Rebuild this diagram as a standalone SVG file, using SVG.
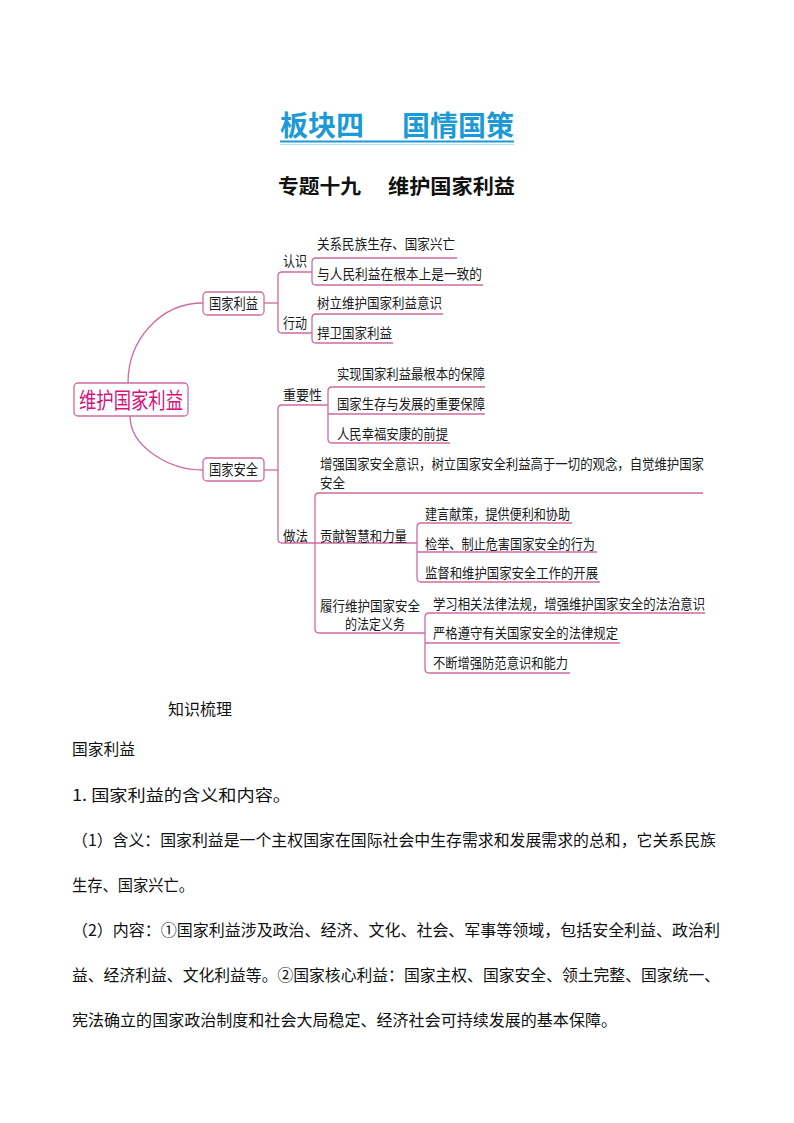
<svg xmlns="http://www.w3.org/2000/svg" width="794" height="1123" viewBox="0 0 794 1123">
<style>
.t{font-family:"Noto Sans CJK SC","Liberation Sans",sans-serif;fill:#1a1a1a;font-size:14px}
.b{font-family:"Noto Sans CJK SC","Liberation Sans",sans-serif;fill:#111;font-size:16px}
.ln{fill:none;stroke:#cf6aa0;stroke-width:1.3}
.box{fill:#fff;stroke:#cf6aa0;stroke-width:1.3}
</style>
<rect width="794" height="1123" fill="#fff"/>
<g id="title">
<text x="280" y="136" style="font-family:'Noto Sans CJK SC',sans-serif;font-size:28px;font-weight:700;fill:#1c9ad6">板块四</text>
<text x="402" y="136" style="font-family:'Noto Sans CJK SC',sans-serif;font-size:28px;font-weight:700;fill:#1c9ad6">国情国策</text>
<line x1="280" y1="141.5" x2="514" y2="141.5" stroke="#1c9ad6" stroke-width="2.2"/>
<line x1="280" y1="144.5" x2="514" y2="144.5" stroke="#a8d8f0" stroke-width="0.8"/>
</g>
<g id="subtitle">
<text x="278" y="193.5" style="font-family:'Noto Sans CJK SC',sans-serif;font-size:20px;font-weight:700;fill:#111" textLength="83" lengthAdjust="spacingAndGlyphs">专题十九</text>
<text x="388" y="193.5" style="font-family:'Noto Sans CJK SC',sans-serif;font-size:20px;font-weight:700;fill:#111" textLength="127" lengthAdjust="spacingAndGlyphs">维护国家利益</text>
</g>
<g id="connectors">
<path class="ln" d="M128,383 C128,339 161,303 203,303"/>
<path class="ln" d="M130,416 C130,446 168,470 203,470"/>
<path class="ln" d="M264,303 H278"/>
<path class="ln" d="M312,272 H282 Q278,272 278,276 V329 Q278,333 282,333 H312"/>
<path class="ln" d="M457,258 H316 Q312,258 312,262 V281 Q312,285 316,285 H483"/>
<path class="ln" d="M443,314 H316 Q312,314 312,318 V339 Q312,343 316,343 H393"/>
<path class="ln" d="M264,470 H278"/>
<path class="ln" d="M328,405 H282 Q278,405 278,409 V539 Q278,543 282,543 H417"/>
<path class="ln" d="M485,387 H332 Q328,387 328,391 V439 Q328,443 332,443 H450"/>
<path class="ln" d="M328,414 H485"/>
<path class="ln" d="M703,493 H319 Q315,493 315,497 V629 Q315,633 319,633 H425"/>
<path class="ln" d="M572,523 H421 Q417,523 417,527 V578 Q417,582 421,582 H600"/>
<path class="ln" d="M417,552 H597"/>
<path class="ln" d="M705,613 H429 Q425,613 425,617 V669 Q425,673 429,673 H570"/>
<path class="ln" d="M425,643 H620"/>
</g>
<g id="root">
<rect class="box" x="74" y="383" width="114" height="33" rx="4"/>
<text x="79" y="407.5" style="font-family:'Noto Sans CJK SC',sans-serif;font-size:22px;fill:#d3127b" textLength="104" lengthAdjust="spacingAndGlyphs">维护国家利益</text>
</g>
<g id="n-guojialiyi">
<rect class="box" x="203" y="292" width="61" height="23" rx="4"/>
<text class="t" x="209" y="308.8" style="font-size:14.5px" textLength="49" lengthAdjust="spacingAndGlyphs">国家利益</text>
</g>
<g id="n-guojiaanquan">
<rect class="box" x="203" y="458" width="61" height="23" rx="4"/>
<text class="t" x="209" y="475.3" style="font-size:14.5px" textLength="49" lengthAdjust="spacingAndGlyphs">国家安全</text>
</g>
<g id="n-renshi"><text class="t" x="283" y="265.5" textLength="24" lengthAdjust="spacingAndGlyphs">认识</text></g>
<g id="n-r1"><text class="t" x="317" y="248.5" textLength="138" lengthAdjust="spacingAndGlyphs">关系民族生存、国家兴亡</text></g>
<g id="n-r2"><text class="t" x="317" y="278.5" textLength="165" lengthAdjust="spacingAndGlyphs">与人民利益在根本上是一致的</text></g>
<g id="n-xingdong"><text class="t" x="283" y="327.5" textLength="24" lengthAdjust="spacingAndGlyphs">行动</text></g>
<g id="n-x1"><text class="t" x="317" y="307.5" textLength="125" lengthAdjust="spacingAndGlyphs">树立维护国家利益意识</text></g>
<g id="n-x2"><text class="t" x="317" y="337.5" textLength="75" lengthAdjust="spacingAndGlyphs">捍卫国家利益</text></g>
<g id="n-zhongyao"><text class="t" x="283" y="399.5" textLength="39" lengthAdjust="spacingAndGlyphs">重要性</text></g>
<g id="n-z1"><text class="t" x="337" y="378.5" textLength="148" lengthAdjust="spacingAndGlyphs">实现国家利益最根本的保障</text></g>
<g id="n-z2"><text class="t" x="337" y="408.5" textLength="148" lengthAdjust="spacingAndGlyphs">国家生存与发展的重要保障</text></g>
<g id="n-z3"><text class="t" x="337" y="438.5" textLength="111" lengthAdjust="spacingAndGlyphs">人民幸福安康的前提</text></g>
<g id="n-zuofa"><text class="t" x="283" y="540.5" textLength="25" lengthAdjust="spacingAndGlyphs">做法</text></g>
<g id="n-f1">
<text class="t" x="320" y="468.5" textLength="384" lengthAdjust="spacingAndGlyphs">增强国家安全意识，树立国家安全利益高于一切的观念，自觉维护国家</text>
<text class="t" x="320" y="487.5" textLength="25" lengthAdjust="spacingAndGlyphs">安全</text>
</g>
<g id="n-gongxian"><text class="t" x="320" y="540.5" textLength="87" lengthAdjust="spacingAndGlyphs">贡献智慧和力量</text></g>
<g id="n-g1"><text class="t" x="425" y="518.5" textLength="145" lengthAdjust="spacingAndGlyphs">建言献策，提供便利和协助</text></g>
<g id="n-g2"><text class="t" x="425" y="548.5" textLength="170" lengthAdjust="spacingAndGlyphs">检举、制止危害国家安全的行为</text></g>
<g id="n-g3"><text class="t" x="425" y="577.5" textLength="173" lengthAdjust="spacingAndGlyphs">监督和维护国家安全工作的开展</text></g>
<g id="n-lvxing">
<text class="t" x="320" y="610.5" textLength="100" lengthAdjust="spacingAndGlyphs">履行维护国家安全</text>
<text class="t" x="345" y="628.5" textLength="60" lengthAdjust="spacingAndGlyphs">的法定义务</text>
</g>
<g id="n-l1"><text class="t" x="433" y="608.5" textLength="272" lengthAdjust="spacingAndGlyphs">学习相关法律法规，增强维护国家安全的法治意识</text></g>
<g id="n-l2"><text class="t" x="433" y="637.5" textLength="185" lengthAdjust="spacingAndGlyphs">严格遵守有关国家安全的法律规定</text></g>
<g id="n-l3"><text class="t" x="433" y="667.5" textLength="135" lengthAdjust="spacingAndGlyphs">不断增强防范意识和能力</text></g>
<g id="body">
<text class="b" x="168" y="715" textLength="64" lengthAdjust="spacingAndGlyphs">知识梳理</text>
<text class="b" x="72" y="755" textLength="63" lengthAdjust="spacingAndGlyphs">国家利益</text>
<text class="b" x="72" y="801" textLength="219" lengthAdjust="spacingAndGlyphs">1. 国家利益的含义和内容。</text>
<text class="b" x="72" y="846" textLength="644" lengthAdjust="spacingAndGlyphs">（1）含义：国家利益是一个主权国家在国际社会中生存需求和发展需求的总和，它关系民族</text>
<text class="b" x="72" y="891" textLength="122" lengthAdjust="spacingAndGlyphs">生存、国家兴亡。</text>
<text class="b" x="72" y="936" textLength="648" lengthAdjust="spacingAndGlyphs">（2）内容：①国家利益涉及政治、经济、文化、社会、军事等领域，包括安全利益、政治利</text>
<text class="b" x="72" y="981" textLength="648" lengthAdjust="spacingAndGlyphs">益、经济利益、文化利益等。②国家核心利益：国家主权、国家安全、领土完整、国家统一、</text>
<text class="b" x="72" y="1026" textLength="545" lengthAdjust="spacingAndGlyphs">宪法确立的国家政治制度和社会大局稳定、经济社会可持续发展的基本保障。</text>
</g>
</svg>
